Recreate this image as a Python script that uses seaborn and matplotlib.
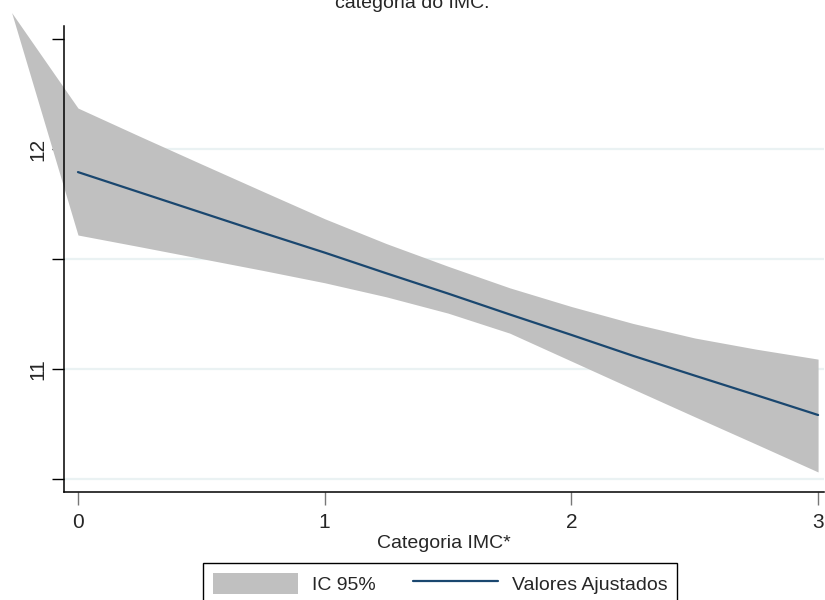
import numpy as np
import pandas as pd
import matplotlib
matplotlib.use("Agg")
import matplotlib.pyplot as plt
import seaborn as sns

# dados (margens / valores ajustados)
categoria = [0, 0.25, 0.5, 0.75, 1, 1.25, 1.5, 1.75, 2, 2.25, 2.5, 2.75, 3]
ajustado = [11.895, 11.803, 11.711, 11.619, 11.529, 11.435, 11.343, 11.248, 11.155, 11.060, 10.970, 10.881, 10.791]
ic_sup = [12.186, 12.058, 11.932, 11.807, 11.683, 11.570, 11.467, 11.369, 11.284, 11.207, 11.141, 11.090, 11.045]
ic_inf = [11.609, 11.556, 11.502, 11.448, 11.392, 11.328, 11.254, 11.163, 11.036, 10.909, 10.783, 10.658, 10.532]
# ponto estranho do IC que sai do grafico (artefato do original)
extra_x = -0.269
extra_y = 12.62

titulo = "categoria do IMC."
xlabel = "Categoria IMC*"
xticks = [0, 1, 2, 3]
yticks = [11, 12]
yminor = [10.5, 11.5, 12.5]
ygrid = [10.5, 11, 11.5, 12]

sns.set_style("white")
plt.rcParams['font.family'] = ['Liberation Sans', 'DejaVu Sans']

df = pd.DataFrame({'cat': categoria, 'fit': ajustado})

fig = plt.figure(figsize=(8.25, 6), dpi=100)
ax = fig.add_axes([64/825, 1 - 492/600, (824 - 64)/825, (492 - 26)/600])

# linhas de grade (sem a de 12.5)
for gy in ygrid:
    ax.axhline(gy, color='#eaf2f3', lw=1.6, zorder=0)

band_x = [extra_x] + categoria
band_lo = [extra_y] + ic_inf
band_hi = [extra_y] + ic_sup
ax.fill_between(band_x, band_lo, band_hi, color='#c0c0c0', lw=0,
                label='IC 95%', clip_on=False, zorder=1)
sns.lineplot(data=df, x='cat', y='fit', color='#1a476f', lw=1.6,
             label='Valores Ajustados', ax=ax, zorder=3)

ax.set_xlim(-0.0567, 3.024)
ax.set_ylim(10.441, 12.559)

ax.set_xticks(xticks)
ax.set_xticklabels([str(t) for t in xticks], fontsize=15)
ax.set_yticks(yticks)
ax.set_yticklabels([str(t) for t in yticks], fontsize=15, rotation=90, va='center')
ax.set_yticks(yminor, minor=True)

ax.tick_params(axis='y', which='both', length=9, width=1, color='black',
               direction='out', pad=3, left=True)
ax.tick_params(axis='x', which='major', length=9, width=1, color='#777777',
               direction='out', pad=6, bottom=True)

ax.grid(False)

sns.despine(ax=ax, top=True, right=True)
ax.spines['left'].set_color('black')
ax.spines['bottom'].set_color('black')
ax.spines['left'].set_linewidth(1.1)
ax.spines['bottom'].set_linewidth(1.1)

ax.set_xlabel(xlabel, fontsize=14, labelpad=2)
ax.set_ylabel('')

fig.text(0.5, 1 - 8/600, titulo, ha='center', va='baseline', fontsize=14)

handles, labels = ax.get_legend_handles_labels()
ax.legend_.remove()
leg = fig.legend(handles, labels, loc='upper left',
                 bbox_to_anchor=(203/825, 1 - 563/600), borderaxespad=0,
                 ncol=2, fontsize=14, frameon=True, fancybox=False,
                 edgecolor='black', framealpha=1, borderpad=0.5,
                 handlelength=4.4, handleheight=1.3, handletextpad=0.7,
                 columnspacing=1.9)
leg.get_frame().set_linewidth(1)

fig.savefig("out.png", dpi=100)
